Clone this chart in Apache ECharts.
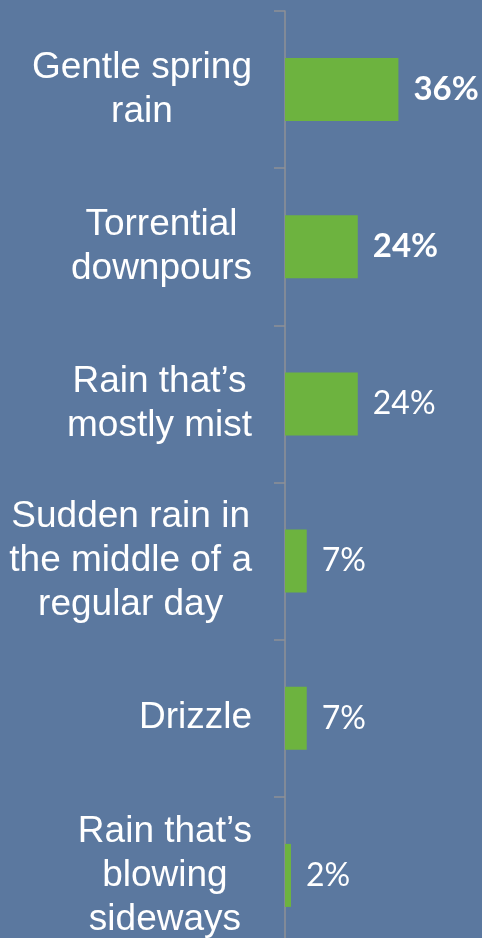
<!DOCTYPE html>
<html>
<head>
<meta charset="utf-8">
<script src="https://cdn.jsdelivr.net/npm/echarts@6/dist/echarts.min.js"></script>
<style>
html,body{margin:0;padding:0;background:#5B789F;}
#chart{width:482px;height:938px;}
</style>
</head>
<body>
<div id="chart"></div>
<script>
const categories = [
  "Gentle spring\nrain",
  "Torrential\ndownpours",
  "Rain that\u2019s\nmostly mist",
  "Sudden rain in\nthe middle of a\nregular day",
  "Drizzle",
  "Rain that\u2019s\nblowing\nsideways"
];
const values = [36, 23.1, 23.1, 6.9, 6.9, 1.9];
const valueLabels = ["36%", "24%", "24%", "7%", "7%", "2%"];
const boldLabels = [true, true, false, false, false, false];

const catFont = '37px "Liberation Sans", Arial, sans-serif';
const ctx = document.createElement('canvas').getContext('2d');
ctx.font = catFont;
function blockWidth(s) {
  return Math.max.apply(null, s.split('\n').map(l => ctx.measureText(l).width));
}
const catItems = categories.map(c => ({
  value: c,
  textStyle: {align: 'center', padding: [0, blockWidth(c), 0, 0]}
}));

const chart = echarts.init(document.getElementById('chart'), null, {renderer: 'canvas'});
chart.setOption({
  backgroundColor: '#5B789F',
  animation: false,
  grid: {left: 285, top: 11, width: 315, height: 943, containLabel: false, outerBoundsMode: 'none'},
  xAxis: {
    type: 'value', min: 0, max: 100, show: false
  },
  yAxis: {
    type: 'category',
    inverse: true,
    data: catItems,
    axisLine: {show: true, lineStyle: {color: '#8E9096', width: 1.5}},
    axisTick: {show: true, length: 11, lineStyle: {color: '#8E9096', width: 1.5}},
    axisLabel: {
      color: '#FFFFFF',
      fontFamily: '"Liberation Sans", Arial, sans-serif',
      fontSize: 37,
      lineHeight: 44,
      align: 'right',
      margin: 33
    },
    splitLine: {show: false}
  },
  series: [{
    type: 'bar',
    data: values.map((v, i) => ({
      value: v,
      label: {fontWeight: boldLabels[i] ? 'bold' : 'normal', fontSize: boldLabels[i] ? 33 : 32}
    })),
    barWidth: 63,
    itemStyle: {color: '#6DB33F'},
    label: {
      show: true,
      position: 'right',
      distance: 15,
      color: '#FFFFFF',
      fontFamily: 'Lato, "Open Sans", sans-serif',
      fontSize: 32,
      formatter: p => valueLabels[p.dataIndex]
    }
  }]
});
</script>
</body>
</html>
